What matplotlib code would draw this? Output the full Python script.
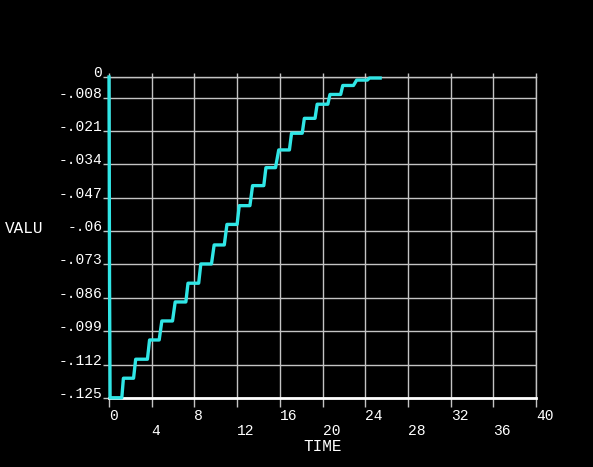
import matplotlib
matplotlib.use('Agg')
import matplotlib.pyplot as plt

# stepped response
time = [0.0, 0.02, 0.05, 0.10, 1.20, 1.35, 2.30, 2.50, 3.60, 3.80, 4.70, 4.95,
        5.95, 6.20, 7.20, 7.40, 8.40, 8.60, 9.60, 9.85, 10.80, 11.05, 12.00,
        12.20, 13.20, 13.45, 14.50, 14.70, 15.60, 15.90, 16.90, 17.10, 18.10,
        18.30, 19.30, 19.50, 20.50, 20.70, 21.70, 21.90, 22.90, 23.20, 24.20,
        24.40, 25.40]
valu = [0.0, -0.030, -0.080, -0.1249, -0.1249, -0.1173, -0.1173, -0.1099,
        -0.1099, -0.1024, -0.1024, -0.0950, -0.0950, -0.0876, -0.0876, -0.0803,
        -0.0803, -0.0728, -0.0728, -0.0654, -0.0654, -0.0574, -0.0574, -0.0501,
        -0.0501, -0.0423, -0.0423, -0.0353, -0.0353, -0.0284, -0.0284, -0.0219,
        -0.0219, -0.0161, -0.0161, -0.0106, -0.0106, -0.0068, -0.0068, -0.0033,
        -0.0033, -0.0012, -0.0012, -0.0004, -0.0004]

yticks = [0, -0.008, -0.021, -0.034, -0.047, -0.06, -0.073, -0.086, -0.099, -0.112, -0.125]
ylabels = ['0', '-.008', '-.021', '-.034', '-.047', '-.06', '-.073', '-.086', '-.099', '-.112', '-.125']
xticks = [0, 4, 8, 12, 16, 20, 24, 28, 32, 36, 40]
xlabels = ['0', '\n4', '8', '\n12', '16', '\n20', '24', '\n28', '32', '\n36', '40']

plt.rcParams['font.family'] = ['Liberation Mono', 'DejaVu Sans Mono']
grid_c = '#c4c4c4'
line_c = '#30e6e6'

fig = plt.figure(figsize=(5.93, 4.67), dpi=100, facecolor='black')
ax = fig.add_axes([109 / 593, 1 - 398 / 467, 427 / 593, 321 / 467], facecolor='black')

ax.set_xlim(0, 40)
ax.set_ylim(-0.125, 0)
ax.set_xticks(xticks)
ax.set_xticklabels(xlabels, ha='left')
ax.set_yticks(yticks)
ax.set_yticklabels(ylabels, va='baseline')
ax.grid(True, color=grid_c, linewidth=1.0)

ax.tick_params(axis='x', colors=grid_c, labelcolor='white', length=6.5, width=1.0,
               pad=1.5, labelsize=10.5, top=True)
ax.tick_params(axis='x', which='major', labeltop=False)
ax.tick_params(axis='y', colors=grid_c, labelcolor='white', length=4.3, width=1.0,
               pad=0.5, labelsize=10.5)
for t in ax.xaxis.get_major_ticks():
    t.tick2line.set_markersize(3)
for lab in ax.get_xticklabels():
    lab.set_linespacing(1.05)

for s in ['top', 'right', 'left']:
    ax.spines[s].set_color(grid_c)
    ax.spines[s].set_linewidth(1.0)
ax.spines['bottom'].set_color('white')
ax.spines['bottom'].set_linewidth(2.0)

ax.plot(time, valu, color=line_c, linewidth=2.4, clip_on=False, zorder=5)

ax.set_xlabel('TIME', color='white', fontsize=11.5, labelpad=1)
fig.text(5 / 593, 1 - 229 / 467, 'VALU', color='white', fontsize=11.5,
         ha='left', va='center')

fig.savefig('out.png', dpi=100, facecolor='black')
